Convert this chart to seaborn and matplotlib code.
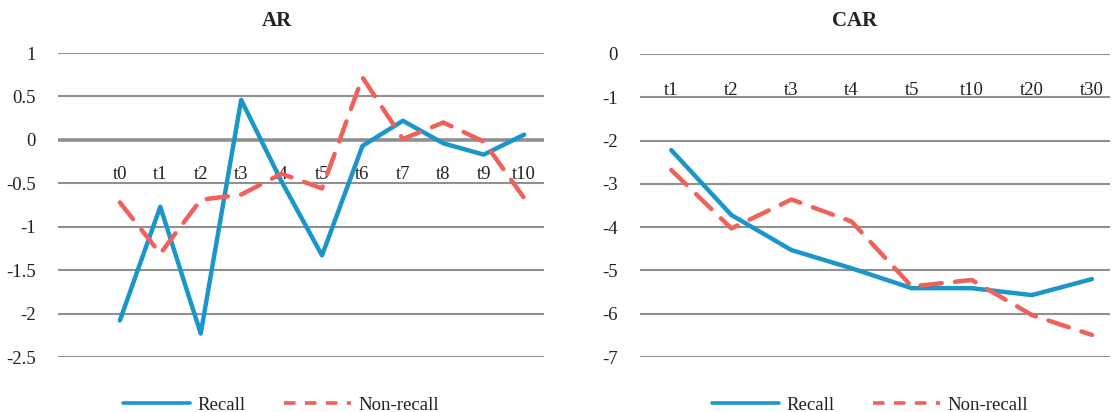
import matplotlib
matplotlib.use("Agg")
import matplotlib.pyplot as plt
from matplotlib.lines import Line2D
import seaborn as sns
import pandas as pd

# Abnormal returns around the event day
ar_days = ["t0", "t1", "t2", "t3", "t4", "t5", "t6", "t7", "t8", "t9", "t10"]
ar_recall = [-2.08, -0.77, -2.23, 0.46, -0.48, -1.33, -0.07, 0.22, -0.04, -0.17, 0.06]
ar_nonrecall = [-0.72, -1.31, -0.69, -0.63, -0.39, -0.56, 0.72, 0.01, 0.20, -0.02, -0.67]

# Cumulative abnormal returns over longer windows
car_days = ["t1", "t2", "t3", "t4", "t5", "t10", "t20", "t30"]
car_recall = [-2.22, -3.72, -4.53, -4.95, -5.41, -5.41, -5.57, -5.20]
car_nonrecall = [-2.68, -4.03, -3.36, -3.87, -5.37, -5.22, -6.03, -6.49]

ar_yticks = [1, 0.5, 0, -0.5, -1, -1.5, -2, -2.5]
car_yticks = [0, -1, -2, -3, -4, -5, -6, -7]

BLUE = "#1a96cb"
RED = "#ef625b"
GRID = "#909090"
TEXT = "#222222"
FS = 13.5

sns.set_theme(style="white")
plt.rcParams["font.family"] = ["Liberation Serif", "DejaVu Serif"]

fig = plt.figure(figsize=(11.13, 4.12), dpi=100)
W, H = 1113, 412


def add_axes(x0, x1, y0, y1):
    return fig.add_axes([x0 / W, 1 - y1 / H, (x1 - x0) / W, (y1 - y0) / H])


def draw_panel(ax, days, recall, nonrecall, yticks, xlim, tick_pad, ylab_pad, zero_lw):
    df = pd.DataFrame({"pos": range(len(days)), "Recall": recall, "Non-recall": nonrecall})
    for yv in yticks:
        lw = zero_lw if yv == 0 else 1.5
        ax.axhline(yv, color=GRID, lw=lw, zorder=1)
    sns.lineplot(data=df, x="pos", y="Recall", ax=ax, color=BLUE, lw=3.2,
                 solid_capstyle="round", solid_joinstyle="round",
                 zorder=3, clip_on=False)
    sns.lineplot(data=df, x="pos", y="Non-recall", ax=ax, color=RED, lw=3.2,
                 linestyle=(0, (4.8, 3.0)), dash_capstyle="round",
                 zorder=3, clip_on=False)
    ax.set_xlim(*xlim)
    ax.set_ylim(min(yticks), max(yticks))
    ax.set_xticks(range(len(days)))
    ax.set_xticklabels(days)
    ax.set_yticks(yticks)
    ax.set_yticklabels([f"{v:g}" for v in yticks])
    for s in ax.spines.values():
        s.set_visible(False)
    ax.spines["bottom"].set_position(("data", 0))
    ax.tick_params(axis="x", length=0, pad=tick_pad, labelsize=FS, colors=TEXT)
    ax.tick_params(axis="y", length=0, pad=ylab_pad, labelsize=FS, colors=TEXT)
    ax.set_xlabel("")
    ax.set_ylabel("")
    ax.grid(False)
    ax.set_facecolor("none")


ax1 = add_axes(58, 544, 53, 357)
draw_panel(ax1, ar_days, ar_recall, ar_nonrecall, ar_yticks,
           (-1.53, 10.49), 19, 16, 2.6)

ax2 = add_axes(640, 1110, 54, 357)
draw_panel(ax2, car_days, car_recall, car_nonrecall, car_yticks,
           (-0.52, 7.3), 20, 16, 1.5)

fig.text(277 / W, 1 - 21 / H, "AR", ha="center", va="center", fontsize=15,
         fontweight="bold", color=TEXT)
fig.text(855 / W, 1 - 21 / H, "CAR", ha="center", va="center", fontsize=15,
         fontweight="bold", color=TEXT)

legend_handles = [
    Line2D([], [], color=BLUE, lw=2.6),
    Line2D([], [], color=RED, lw=2.6, linestyle=(0, (3.2, 2.6))),
]
for ax, cx in ((ax1, 281), (ax2, 870)):
    ax.legend(legend_handles, ["Recall", "Non-recall"], loc="center",
              bbox_to_anchor=(cx / W, 1 - 405 / H), bbox_transform=fig.transFigure,
              ncol=2, frameon=False, fontsize=FS, handlelength=3.6,
              columnspacing=2.0, handletextpad=0.4, labelcolor=TEXT)

fig.savefig("out.png", dpi=100, facecolor="white")
